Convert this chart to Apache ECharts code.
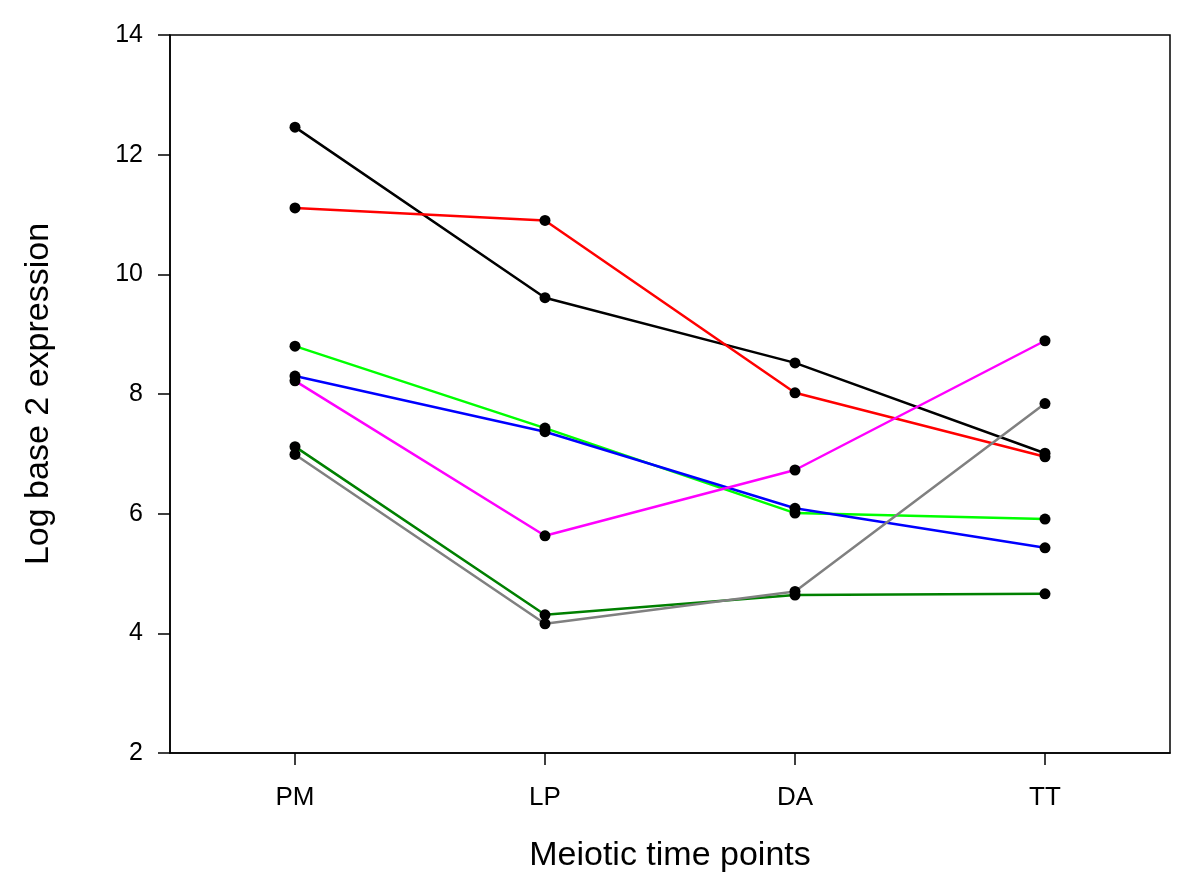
<!DOCTYPE html>
<html><head><meta charset="utf-8">
<script src="https://cdn.jsdelivr.net/npm/echarts@6/dist/echarts.min.js"></script>
<style>html,body{margin:0;padding:0;background:#fff}#c{width:1200px;height:891px}</style>
</head><body><div id="c"></div>
<script>
const categories = ['PM', 'LP', 'DA', 'TT'];
const blackSeries = [12.46, 9.61, 8.52, 7.01];
const redSeries = [11.11, 10.90, 8.02, 6.95];
const limeSeries = [8.80, 7.43, 6.01, 5.91];
const blueSeries = [8.30, 7.37, 6.09, 5.43];
const magentaSeries = [8.22, 5.63, 6.73, 8.89];
const darkGreenSeries = [7.12, 4.31, 4.64, 4.66];
const graySeries = [6.99, 4.16, 4.70, 7.84];
const yTicks = [2, 4, 6, 8, 10, 12, 14];

const lines = [
  {data: blackSeries, color: '#000000'},
  {data: redSeries, color: '#ff0000'},
  {data: limeSeries, color: '#00ff00'},
  {data: blueSeries, color: '#0000ff'},
  {data: magentaSeries, color: '#ff00ff'},
  {data: darkGreenSeries, color: '#008000'},
  {data: graySeries, color: '#808080'}
];
const font = 'Liberation Sans, Arial, sans-serif';
const series = [];
lines.forEach(l => series.push({
  type: 'line', data: l.data, showSymbol: false, z: 2,
  lineStyle: {color: l.color, width: 2.5}, itemStyle: {color: l.color}, animation: false
}));
lines.forEach(l => series.push({
  type: 'scatter', data: l.data, symbol: 'circle', symbolSize: 11, z: 5,
  itemStyle: {color: '#000000', opacity: 1}, animation: false
}));

const chart = echarts.init(document.getElementById('c'), null, {renderer: 'canvas'});
chart.setOption({
  backgroundColor: '#ffffff',
  animation: false,
  grid: {left: 170, right: 30, top: 35, bottom: 138, show: true, borderColor: '#000', borderWidth: 1.5, backgroundColor: 'transparent'},
  xAxis: {
    type: 'category', data: categories, boundaryGap: true,
    name: 'Meiotic time points', nameLocation: 'middle', nameGap: 86,
    nameTextStyle: {fontFamily: font, fontSize: 34, color: '#000'},
    axisLine: {lineStyle: {color: '#000', width: 1.5}},
    axisTick: {show: true, alignWithLabel: true, length: 12, lineStyle: {color: '#000', width: 1.5}},
    axisLabel: {fontFamily: font, fontSize: 26, color: '#000', margin: 32},
    splitLine: {show: false}
  },
  yAxis: {
    type: 'value', min: yTicks[0], max: yTicks[yTicks.length - 1], interval: 2,
    name: 'Log base 2 expression', nameLocation: 'middle', nameGap: 114,
    nameTextStyle: {fontFamily: font, fontSize: 34, color: '#000'},
    axisLine: {show: true, lineStyle: {color: '#000', width: 1.5}},
    axisTick: {show: true, length: 12, lineStyle: {color: '#000', width: 1.5}},
    axisLabel: {fontFamily: font, fontSize: 25, color: '#000', margin: 27},
    splitLine: {show: false}
  },
  series: series
});
</script></body></html>
